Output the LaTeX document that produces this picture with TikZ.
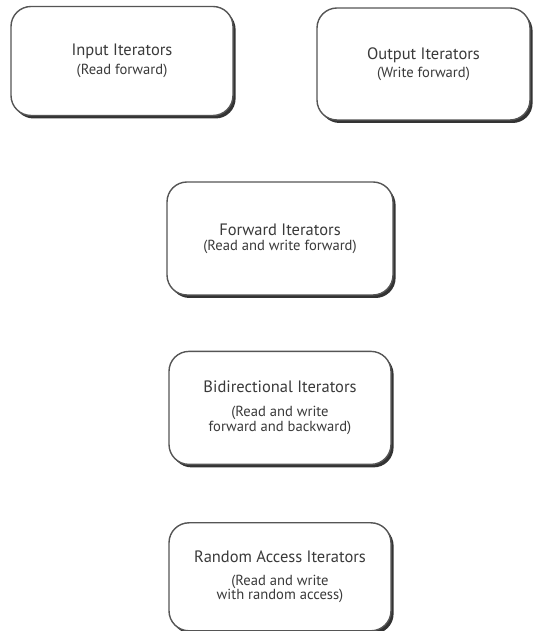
\documentclass[tikz,border=0pt]{standalone}
\usepackage{fontspec}
\setmainfont{PT Sans}
\usepackage{tikz}
\usetikzlibrary{positioning,shadows}
\definecolor{edge}{HTML}{555555}
\definecolor{ink}{HTML}{3A3A3A}
\newcommand{\boxtitle}{\fontsize{16.5}{19}\selectfont}
\newcommand{\boxsub}{\fontsize{14.6}{15}\selectfont}

\begin{document}
\begin{tikzpicture}[
    x=1pt, y=1pt,
    box/.style={draw=edge, line width=1.4pt, rounded corners=20pt, fill=white,
      minimum width=222pt, minimum height=109pt, align=center, text=ink,
      drop shadow={shadow xshift=2.6pt, shadow yshift=-3pt, fill=black!80, opacity=1}}
  ]
    \useasboundingbox (0,0) rectangle (536,631);

    \node[box] (input) at (122,570) {{\boxtitle Input Iterators}\\[4pt]{\boxsub (Read forward)}};
    \node[box, minimum width=213pt, minimum height=112pt] (output) at (423.5,567) {{\boxtitle Output Iterators}\\[3pt]{\boxsub (Write forward)}};
    \node[box, minimum width=226pt, minimum height=113pt] (forward) at (280,392.5) {{\boxtitle Forward Iterators}\\[3pt]{\boxsub (Read and write forward)}};
    \node[box, minimum width=222pt, minimum height=113pt, below=55pt of forward] (bidir) {{\boxtitle Bidirectional Iterators}\\[12pt]{\boxsub (Read and write}\\{\boxsub forward and backward)}};
    \node[box, minimum width=222pt, minimum height=108pt, below=57pt of bidir] (random) {{\boxtitle Random Access Iterators}\\[11pt]{\boxsub (Read and write}\\{\boxsub with random access)}};
  \end{tikzpicture}
\end{document}
